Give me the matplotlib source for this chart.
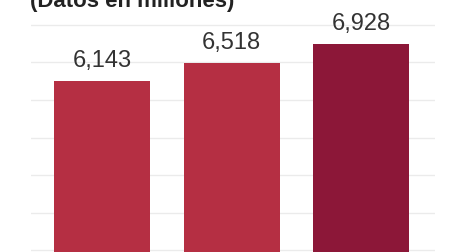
import matplotlib
matplotlib.use("Agg")
import matplotlib.pyplot as plt

# Data
years = ["A", "B", "C"]
values = [6143, 6518, 6928]
labels = ["6,143", "6,518", "6,928"]
bar_colors = ["#b52f43", "#b52f43", "#8c1738"]
grid_values = [2557, 3353, 4148, 4944, 5740, 6536, 7332]

plt.rcParams['font.family'] = ['Liberation Sans Narrow', 'Liberation Sans', 'DejaVu Sans']

fig = plt.figure(figsize=(4.49, 2.52), dpi=100)
ax = fig.add_axes([31 / 449, 0, 404 / 449, 1])

x = range(len(values))
ax.bar(x, values, width=0.741, color=bar_colors, zorder=2)

for i, (v, lab) in enumerate(zip(values, labels)):
    ax.annotate(lab, (i, v), xytext=(0, 10), textcoords="offset points",
                ha="center", va="baseline", fontsize=17, color="#333333")

ax.set_xlim(-0.548, 2.571)
ax.set_ylim(2515, 7862)
ax.set_yticks(grid_values)
ax.grid(axis="y", color="#ebebeb", linewidth=1)
ax.set_axisbelow(True)
ax.tick_params(left=False, bottom=False, labelleft=False, labelbottom=False)
for s in ax.spines.values():
    s.set_visible(False)

# title, cut off at the top edge as in the source screenshot
fig.text(30 / 449, 1 - 7 / 252, "(Datos en millones)", ha="left", va="baseline",
         fontsize=16, fontweight="bold", color="#222222")

fig.savefig("out.png", dpi=100)
